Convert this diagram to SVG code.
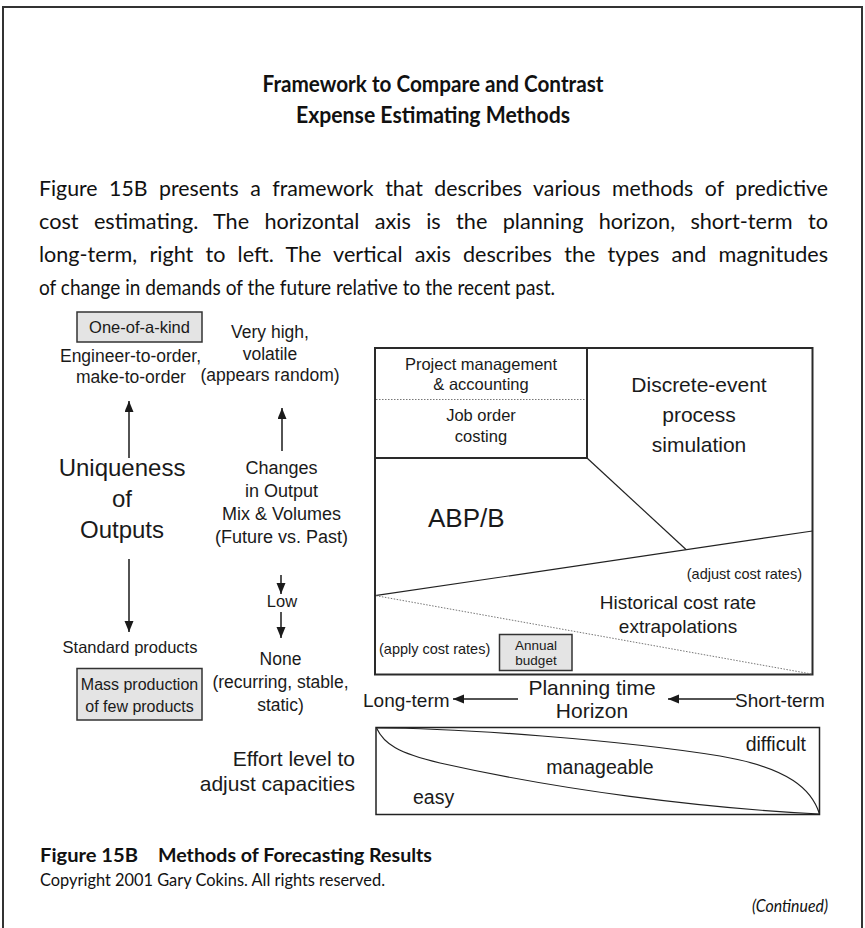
<svg xmlns="http://www.w3.org/2000/svg" width="865" height="928" viewBox="0 0 865 928">
  <defs>
    <marker id="head" markerUnits="userSpaceOnUse" markerWidth="12" markerHeight="10" refX="11" refY="4.5" orient="auto">
      <path d="M0,0 L11,4.5 L0,9 z" fill="#1a1a1a"/>
    </marker>
  </defs>
  <style>
    .book{font-family:Lato,"Open Sans",sans-serif;fill:#111}
    .bold{font-weight:bold}
    .dg{font-family:"Liberation Sans",Arial,sans-serif;fill:#1a1a1a}
    .c{text-anchor:middle}
    .e{text-anchor:end}
    .frame{fill:none;stroke:#333;stroke-width:2}
    .gbox{fill:#e4e4e4;stroke:#333;stroke-width:1.5}
    .thick{stroke:#2a2a2a;stroke-width:2;fill:none}
    .thin{stroke:#222;stroke-width:1.2;fill:none}
    .dot{stroke:#777;stroke-width:1;stroke-dasharray:1.5 1.5;fill:none}
    .arr{stroke:#1a1a1a;stroke-width:1.5;fill:none;marker-end:url(#head)}
  </style>

  <rect width="865" height="928" fill="#fff"/>
  <!-- page frame, open at the bottom -->
  <path class="frame" d="M3,930 V7 H862 V930"/>

  <g id="title" class="book bold c" font-size="23">
    <text x="433" y="92" textLength="341" lengthAdjust="spacingAndGlyphs">Framework to Compare and Contrast</text>
    <text x="433" y="123" textLength="274" lengthAdjust="spacingAndGlyphs">Expense Estimating Methods</text>
  </g>

  <!-- justified body text: extra word spacing on the full lines -->
  <g id="intro" class="book" font-size="21">
    <text x="39" y="196" word-spacing="6" textLength="789" lengthAdjust="spacingAndGlyphs">Figure 15B presents a framework that describes various methods of predictive</text>
    <text x="39" y="229" word-spacing="9.5" textLength="789" lengthAdjust="spacingAndGlyphs">cost estimating. The horizontal axis is the planning horizon, short-term to</text>
    <text x="39" y="262" word-spacing="6.5" textLength="789" lengthAdjust="spacingAndGlyphs">long-term, right to left. The vertical axis describes the types and magnitudes</text>
    <text x="39" y="295" textLength="516" lengthAdjust="spacingAndGlyphs">of change in demands of the future relative to the recent past.</text>
  </g>

  <!-- vertical axis: uniqueness of outputs -->
  <g id="uniqueness-high" class="dg">
    <rect class="gbox" x="77" y="312" width="125" height="30"/>
    <text class="c" x="139.5" y="333" font-size="16.5">One-of-a-kind</text>
    <text class="c" x="130.5" y="362" font-size="17.5">Engineer-to-order,</text>
    <text class="c" x="131" y="383" font-size="17.5">make-to-order</text>
  </g>
  <g id="uniqueness-label" class="dg c" font-size="24">
    <text x="122" y="476">Uniqueness</text>
    <text x="122" y="507">of</text>
    <text x="122" y="538">Outputs</text>
  </g>
  <g id="uniqueness-low" class="dg">
    <text class="c" x="130" y="653" font-size="16.5">Standard products</text>
    <rect class="gbox" x="77" y="668.5" width="125" height="51.5"/>
    <text class="c" x="139.5" y="690" font-size="16">Mass production</text>
    <text class="c" x="139.5" y="711.5" font-size="16">of few products</text>
  </g>

  <!-- vertical axis: change in output mix and volumes -->
  <g id="change-high" class="dg c" font-size="17.5">
    <text x="270" y="338">Very high,</text>
    <text x="270" y="360">volatile</text>
    <text x="270" y="381">(appears random)</text>
  </g>
  <g id="change-label" class="dg c" font-size="18">
    <text x="281.5" y="474">Changes</text>
    <text x="281.5" y="497">in Output</text>
    <text x="281.5" y="520">Mix &amp; Volumes</text>
    <text x="281.5" y="542.5">(Future vs. Past)</text>
  </g>
  <g id="change-low" class="dg c">
    <text x="282" y="606.5" font-size="16.5">Low</text>
    <text x="280.5" y="665" font-size="17.5">None</text>
    <text x="280.5" y="688" font-size="17.5">(recurring, stable,</text>
    <text x="280.5" y="711" font-size="17.5">static)</text>
  </g>

  <!-- method matrix -->
  <g id="matrix" class="dg">
    <rect class="thick" x="375" y="348" width="437.5" height="326.5"/>
    <path class="thick" d="M587,348 V458 H375"/>
    <path class="dot" d="M376,399.5 H586"/>
    <path class="thin" d="M587,458 L686,549.5"/>
    <path class="thin" d="M375,595.7 L812.5,531"/>
    <path class="dot" d="M376,595.7 L811.5,674"/>
  </g>
  <g id="cell-project" class="dg c" font-size="16.5">
    <text x="481" y="370">Project management</text>
    <text x="481" y="390">&amp; accounting</text>
  </g>
  <g id="cell-job-order" class="dg c" font-size="16.5">
    <text x="481" y="421">Job order</text>
    <text x="481" y="442">costing</text>
  </g>
  <g id="cell-simulation" class="dg c" font-size="21">
    <text x="699" y="392">Discrete-event</text>
    <text x="699" y="422">process</text>
    <text x="699" y="452">simulation</text>
  </g>
  <g id="cell-abpb" class="dg">
    <text x="428" y="527" font-size="26">ABP/B</text>
  </g>
  <g id="cell-historical" class="dg">
    <text class="e" x="802" y="579" font-size="14.5">(adjust cost rates)</text>
    <text class="c" x="678" y="609" font-size="19">Historical cost rate</text>
    <text class="c" x="678" y="633" font-size="19">extrapolations</text>
    <text x="379" y="654" font-size="14.5">(apply cost rates)</text>
  </g>
  <g id="annual-budget" class="dg c" font-size="13.5">
    <rect class="gbox" x="499.5" y="634.5" width="72.5" height="36"/>
    <text x="536" y="649.5">Annual</text>
    <text x="536" y="665">budget</text>
  </g>

  <!-- horizontal axis -->
  <g id="horizon" class="dg">
    <text x="363" y="706.5" font-size="19">Long-term</text>
    <text class="c" x="592" y="695" font-size="21">Planning time</text>
    <text class="c" x="592" y="718" font-size="21">Horizon</text>
    <text x="735" y="706.5" font-size="19">Short-term</text>
  </g>

  <!-- effort to adjust capacities -->
  <g id="effort" class="dg">
    <text class="e" x="355" y="766" font-size="21">Effort level to</text>
    <text class="e" x="355" y="791" font-size="21">adjust capacities</text>
    <rect x="376" y="727.5" width="443.5" height="87" fill="none" stroke="#222" stroke-width="1.5"/>
    <path class="thin" d="M376.5,728 C460,728 620,740 720,756 C790,768 812,790 819.5,814"/>
    <path class="thin" d="M376.5,728 C384,744 398,753 440,763 C560,790 700,808 819.5,814"/>
    <text class="e" x="806" y="751" font-size="19.5">difficult</text>
    <text class="c" x="600" y="774" font-size="19.5">manageable</text>
    <text x="413" y="804" font-size="19.5">easy</text>
  </g>

  <g id="connectors">
    <path class="arr" d="M129,458 V401"/>
    <path class="arr" d="M129,559 V632"/>
    <path class="arr" d="M282,451 V408"/>
    <path class="arr" d="M281,575 V594"/>
    <path class="arr" d="M281,612 V638"/>
    <path class="arr" d="M518,699 H453"/>
    <path class="arr" d="M736,699 H668"/>
  </g>

  <g id="caption" class="book">
    <text class="bold" x="40" y="862" font-size="19" textLength="98" lengthAdjust="spacingAndGlyphs">Figure 15B</text>
    <text class="bold" x="158" y="862" font-size="19" textLength="274" lengthAdjust="spacingAndGlyphs">Methods of Forecasting Results</text>
    <text x="40" y="886" font-size="18" textLength="345" lengthAdjust="spacingAndGlyphs">Copyright 2001 Gary Cokins. All rights reserved.</text>
    <text class="e" x="828" y="912" font-size="18" font-style="italic" textLength="76" lengthAdjust="spacingAndGlyphs">(Continued)</text>
  </g>
</svg>
